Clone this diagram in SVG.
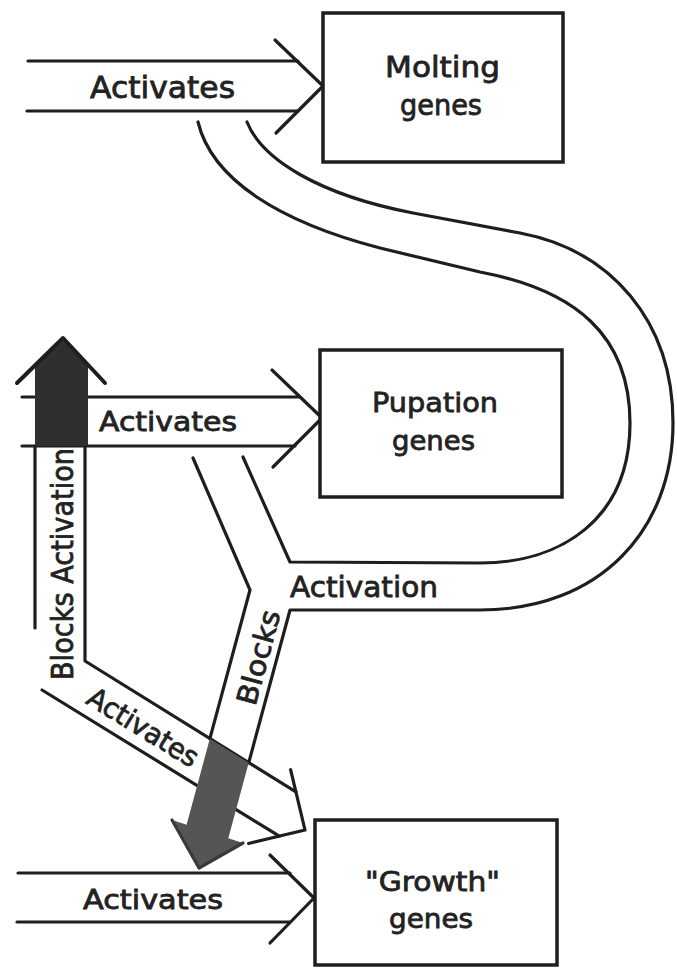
<svg xmlns="http://www.w3.org/2000/svg" width="677" height="973" viewBox="0 0 677 973">
<style>
.ln{fill:none;stroke:#1e1e1e;stroke-width:3.2;stroke-linecap:round;stroke-linejoin:round}
.box{fill:#fff;stroke:#1e1e1e;stroke-width:3.5}
.t{font-family:"DejaVu Sans","Liberation Sans",sans-serif;fill:#222;stroke:#222;stroke-width:0.8;text-anchor:middle}
.shadeA{fill:#2f2f2f}
.shadeB{fill:#555}
</style>
<rect width="677" height="973" fill="#fff"/>
<g id="connectors">
  <!-- top Activates arrow -->
  <line class="ln" x1="28" y1="61" x2="298" y2="61"/>
  <line class="ln" x1="27" y1="111" x2="298" y2="111"/>
  <polyline class="ln" points="275,40 323,86 276,133"/>
  <!-- S band (Activation) -->
  <path class="ln" d="M198,122 C212,180 280,222 380,248 L480,272 C575,290 630,335 630,423 C630,520 560,563 480,563 L290,562 L243,457"/>
  <path class="ln" d="M247,122 C262,160 320,195 413,213 L520,233 C610,250 673,320 673,423 C673,530 600,610 480,610 L290,610 L248.7,762.8"/>
  <polyline class="ln" points="193,458 250,590 209.8,738.8"/>
  <!-- middle Activates arrow -->
  <line class="ln" x1="22" y1="397" x2="300" y2="397"/>
  <line class="ln" x1="22" y1="446" x2="295" y2="446"/>
  <polyline class="ln" points="272,370 322,418 273,467"/>
  <!-- Blocks Activation band + diagonal Activates arrow -->
  <line class="ln" x1="35" y1="446" x2="35" y2="628"/>
  <polyline class="ln" points="85,446 85,661 295.9,791.9"/>
  <line class="ln" x1="42" y1="690" x2="279.3" y2="836.1"/>
  <polyline class="ln" points="290.6,769.7 305,830 248.6,843.5"/>
  <!-- up arrow (shaded) -->
  <polygon class="shadeA" points="63,338 88,363 88,446 35,446 35,366"/>
  <polyline class="ln" style="stroke-width:4" points="17,383 63,338 105,383"/>
  <!-- down arrow (shaded) -->
  <polygon class="shadeB" points="209.8,738.8 248.7,762.8 228.3,838.3 243,843 199,868 172,820 186.6,824.7"/>
  <polyline class="ln" style="stroke:#3a3a3a" points="172,820 199,868 243,843"/>
  <!-- bottom Activates arrow -->
  <line class="ln" x1="18" y1="873" x2="290" y2="873"/>
  <line class="ln" x1="17" y1="922" x2="290" y2="922"/>
  <polyline class="ln" points="270,855 314,898 270,943"/>
  <!-- labels -->
  <text class="t" x="162.5" y="98" font-size="30" textLength="145" lengthAdjust="spacingAndGlyphs">Activates</text>
  <text class="t" x="168" y="431" font-size="26" textLength="138" lengthAdjust="spacingAndGlyphs">Activates</text>
  <text class="t" x="153" y="909" font-size="26" textLength="140" lengthAdjust="spacingAndGlyphs">Activates</text>
  <text class="t" x="364" y="597" font-size="29" textLength="148" lengthAdjust="spacingAndGlyphs">Activation</text>
  <text class="t" transform="translate(73,564) rotate(-90)" x="0" y="0" font-size="31" textLength="232" lengthAdjust="spacingAndGlyphs">Blocks Activation</text>
  <text class="t" transform="translate(138,735.5) rotate(31.6)" x="0" y="0" font-size="28" textLength="125" lengthAdjust="spacingAndGlyphs">Activates</text>
  <text class="t" transform="translate(268,660) rotate(-74.9)" x="0" y="0" font-size="28" textLength="97" lengthAdjust="spacingAndGlyphs">Blocks</text>
</g>
<g id="node-molting">
  <rect class="box" x="323" y="13" width="240" height="149"/>
  <text class="t" x="442.5" y="77" font-size="29" textLength="115" lengthAdjust="spacingAndGlyphs">Molting</text>
  <text class="t" x="441" y="115" font-size="29" textLength="82" lengthAdjust="spacingAndGlyphs">genes</text>
</g>
<g id="node-pupation">
  <rect class="box" x="320" y="350" width="242" height="147"/>
  <text class="t" x="435" y="412" font-size="27" textLength="126" lengthAdjust="spacingAndGlyphs">Pupation</text>
  <text class="t" x="433.5" y="450" font-size="27" textLength="83" lengthAdjust="spacingAndGlyphs">genes</text>
</g>
<g id="node-growth">
  <rect class="box" x="315" y="820" width="242" height="145"/>
  <text class="t" x="432.5" y="891" font-size="27" textLength="135" lengthAdjust="spacingAndGlyphs">"Growth"</text>
  <text class="t" x="431" y="928" font-size="27" textLength="84" lengthAdjust="spacingAndGlyphs">genes</text>
</g>
</svg>
